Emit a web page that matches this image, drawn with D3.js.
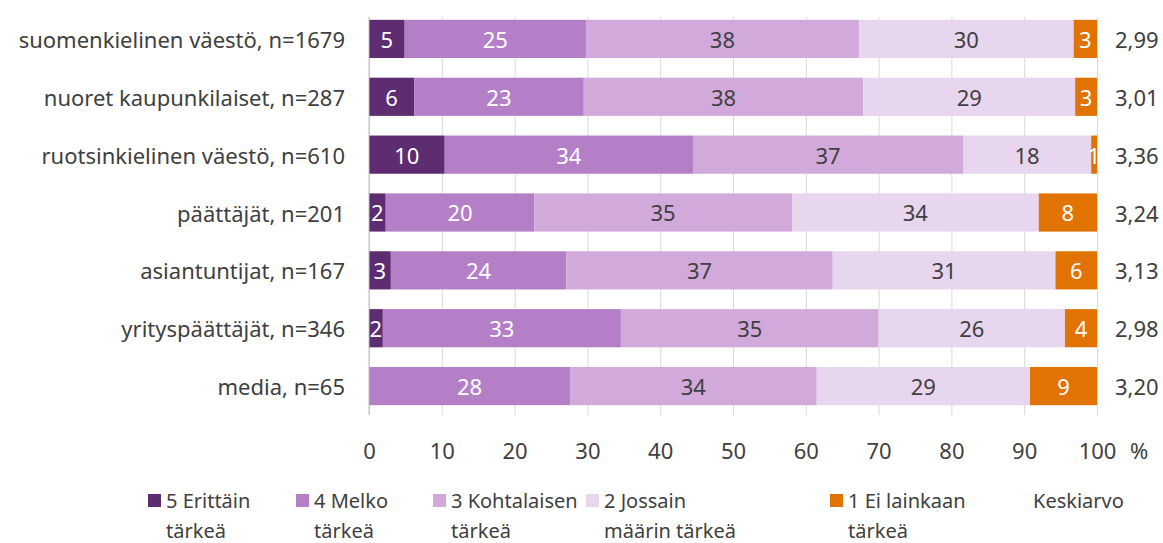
<!DOCTYPE html>
<html>
<head>
<meta charset="utf-8">
<script src="https://cdn.jsdelivr.net/npm/d3@7"></script>
<style>
  body { margin: 0; background: #fff; }
  svg text { font-family: "Noto Sans", "Open Sans", sans-serif; }
</style>
</head>
<body>
<div id="app"></div>
<script>
// categories (top to bottom)
const groups = [
	'suomenkielinen väestö, n=1679',
	'nuoret kaupunkilaiset, n=287',
	'ruotsinkielinen väestö, n=610',
	'päättäjät, n=201',
	'asiantuntijat, n=167',
	'yrityspäättäjät, n=346',
	'media, n=65',
];

// shares per answer option, % (same order as groups)
const s5 = [4.9, 6.2, 10.4, 2.3, 3.0, 1.9, 0];
const s4 = [24.9, 23.3, 34.1, 20.4, 24.1, 32.7, 27.6];
const s3 = [37.5, 38.4, 37.1, 35.4, 36.6, 35.4, 33.9];
const s2 = [29.5, 29.1, 17.6, 33.9, 30.6, 25.6, 29.3];
const s1 = [3.2, 3.0, 0.8, 8.0, 5.7, 4.4, 9.2];

const means = ['2,99', '3,01', '3,36', '3,24', '3,13', '2,98', '3,20'];

const seriesNames = [
	['5 Erittäin', 'tärkeä'],
	['4 Melko', 'tärkeä'],
	['3 Kohtalaisen', 'tärkeä'],
	['2 Jossain', 'määrin tärkeä'],
	['1 Ei lainkaan', 'tärkeä'],
];
const seriesColors = ['#5d2c71', '#b57fc8', '#d1aadb', '#e8d5ee', '#e07302'];
const labelColors = ['#fff', '#fff', '#404040', '#404040', '#fff'];
const xTicks = [0, 10, 20, 30, 40, 50, 60, 70, 80, 90, 100];

const textColor = '#404040';
const fontSize = '22px';
const legendFont = '20px';

const table = groups.map((g, i) => ({
	group: g,
	values: [s5[i], s4[i], s3[i], s2[i], s1[i]],
}));

const width = 1163;
const height = 543;

const svg = d3
	.select('#app')
	.append('svg')
	.attr('width', width)
	.attr('height', height);

const x = d3.scaleLinear().domain([0, 100]).range([369, 1097]);
const y = d3
	.scaleBand()
	.domain(groups)
	.range([10, 415])
	.paddingInner(0.34)
	.paddingOuter(0.17);

// grid + ticks
const axis = svg
	.append('g')
	.attr('transform', 'translate(0,415)')
	.call(d3.axisBottom(x).tickValues(xTicks).tickSize(-398));
axis.select('.domain').remove();
axis.selectAll('.tick line').attr('stroke', '#d9d9d9');
axis.selectAll('.tick text')
	.attr('y', 35)
	.attr('dy', null)
	.attr('dominant-baseline', 'central')
	.attr('fill', textColor)
	.style('font-size', fontSize);

svg.append('text')
	.attr('x', 1130)
	.attr('y', 450)
	.attr('dominant-baseline', 'central')
	.attr('fill', textColor)
	.style('font-size', fontSize)
	.text('%');

// stacked bars
const rows = svg
	.selectAll('g.row')
	.data(table)
	.join('g')
	.attr('class', 'row')
	.attr('transform', (d) => `translate(0,${y(d.group)})`);

rows.each(function (d) {
	let acc = 0;
	const segs = d.values.map((v, k) => {
		const s = { start: acc, value: v, k };
		acc += v;
		return s;
	});
	const g = d3.select(this);
	g.selectAll('rect')
		.data(segs.filter((s) => s.value > 0))
		.join('rect')
		.attr('x', (s) => x(s.start))
		.attr('y', 0)
		.attr('width', (s) => x(s.start + s.value) - x(s.start))
		.attr('height', y.bandwidth())
		.attr('fill', (s) => seriesColors[s.k]);
	g.selectAll('text.val')
		.data(segs.filter((s) => s.value > 0))
		.join('text')
		.attr('class', 'val')
		.attr('x', (s) => x(s.start + s.value / 2))
		.attr('y', y.bandwidth() / 2)
		.attr('text-anchor', 'middle')
		.attr('dominant-baseline', 'central')
		.attr('fill', (s) => labelColors[s.k])
		.style('font-size', fontSize)
		.text((s) => Math.round(s.value));
});

// category labels
svg.append('g')
	.selectAll('text')
	.data(groups)
	.join('text')
	.attr('x', 345)
	.attr('y', (d) => y(d) + y.bandwidth() / 2)
	.attr('text-anchor', 'end')
	.attr('dominant-baseline', 'central')
	.attr('fill', textColor)
	.style('font-size', fontSize)
	.text((d) => d);

// means
svg.append('g')
	.selectAll('text')
	.data(groups)
	.join('text')
	.attr('x', 1115)
	.attr('y', (d) => y(d) + y.bandwidth() / 2)
	.attr('dominant-baseline', 'central')
	.attr('fill', textColor)
	.style('font-size', fontSize)
	.text((d, i) => means[i]);

// y axis line
svg.append('line')
	.attr('x1', x(0))
	.attr('x2', x(0))
	.attr('y1', 17)
	.attr('y2', 415)
	.attr('stroke', '#bfbfbf');

// legend
const legendX = [148, 296, 433, 586, 830];
const legend = svg
	.append('g')
	.selectAll('g')
	.data(seriesNames)
	.join('g')
	.attr('transform', (d, i) => `translate(${legendX[i]},0)`);
legend.append('rect')
	.attr('y', 494)
	.attr('width', 13)
	.attr('height', 13)
	.attr('fill', (d, i) => seriesColors[i]);
legend.append('text')
	.attr('x', 18)
	.attr('y', 500)
	.attr('dominant-baseline', 'central')
	.attr('fill', textColor)
	.style('font-size', legendFont)
	.text((d) => d[0]);
legend.append('text')
	.attr('x', 18)
	.attr('y', 530)
	.attr('dominant-baseline', 'central')
	.attr('fill', textColor)
	.style('font-size', legendFont)
	.text((d) => d[1]);

svg.append('text')
	.attr('x', 1033)
	.attr('y', 500)
	.attr('dominant-baseline', 'central')
	.attr('fill', textColor)
	.style('font-size', legendFont)
	.text('Keskiarvo');
</script>
</body>
</html>
